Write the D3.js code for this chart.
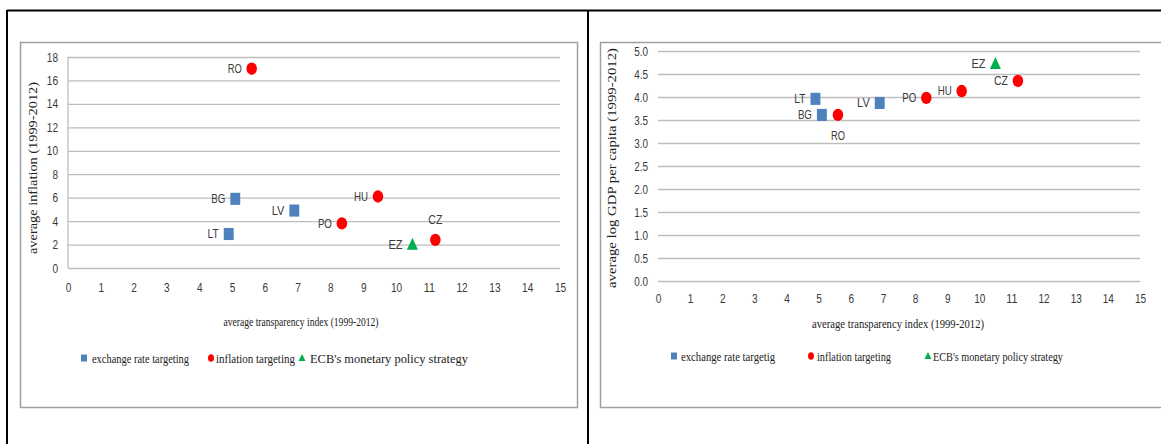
<!DOCTYPE html>
<html>
<head>
<meta charset="utf-8">
<script src="https://cdn.jsdelivr.net/npm/d3@7/dist/d3.min.js"></script>
<style>
  html, body { margin: 0; padding: 0; background: #fff; }
  svg { display: block; }
  .tick-label { font-family: "Liberation Sans Narrow", "Arial Narrow", "Liberation Sans", sans-serif; font-size: 12.5px; fill: #3a3a3a; }
  .data-label { font-family: "Liberation Sans Narrow", "Arial Narrow", "Liberation Sans", sans-serif; font-size: 12.5px; fill: #3a3a3a; }
  .serif { font-family: "Liberation Serif", "Times New Roman", serif; fill: #222; }
</style>
</head>
<body>
<svg id="chart" width="1161" height="444"></svg>
<script>
// ---------------- data ----------------
const countries    = ["LT", "BG", "RO", "LV", "PO", "HU", "CZ", "EZ"];
const regimes      = ["exchange", "exchange", "inflation", "exchange", "inflation", "inflation", "inflation", "ecb"];
const transparency = [4.9, 5.1, 5.6, 6.9, 8.35, 9.45, 11.2, 10.5];
const inflation    = [2.9, 5.9, 17.0, 4.9, 3.8, 6.1, 2.4, 2.0];
const logGdp       = [3.96, 3.61, 3.61, 3.87, 3.98, 4.13, 4.35, 4.72];

const xTicks         = d3.range(0, 16, 1);
const inflationTicks = d3.range(0, 19, 2);
const gdpTicks       = d3.range(0, 5.01, 0.5);

const legendLeft  = ["exchange rate targeting", "inflation targeting", "ECB's monetary policy strategy"];
const legendRight = ["exchange rate targetig", "inflation targeting", "ECB's monetary policy strategy"];

const xTitle        = "average transparency index (1999-2012)";
const yTitleLeft    = "average inflation (1999-2012)";
const yTitleRight   = "average log GDP per capita (1999-2012)";

// label placement per country (style, not data)
const labelPosLeft  = { LT: "left", BG: "left", RO: "left", LV: "left", PO: "left", HU: "left", CZ: "above", EZ: "left" };
const labelPosRight = { LT: "left", BG: "left", RO: "below", LV: "left", PO: "left", HU: "left", CZ: "left", EZ: "left" };

const colors = { exchange: "#4F81BD", inflation: "#FF0000", ecb: "#00B050" };

// ---------------- drawing ----------------
const svg = d3.select("#chart");

// condensed text width estimate (reference uses a narrow sans face)
function narrowWidth(s) {
  let w = 0;
  for (const ch of s) {
    if (ch === ".") w += 2.6;
    else if (/[0-9]/.test(ch)) w += 5.6;
    else if (ch === "L" || ch === "T") w += 5.6;
    else w += 7;
  }
  return w;
}

// outer table frame
svg.append("line").attr("x1", 7).attr("x2", 1161).attr("y1", 10.5).attr("y2", 10.5).attr("stroke", "#000").attr("stroke-width", 2);
svg.append("line").attr("x1", 7).attr("x2", 7).attr("y1", 10).attr("y2", 444).attr("stroke", "#000").attr("stroke-width", 2);
svg.append("line").attr("x1", 588).attr("x2", 588).attr("y1", 10).attr("y2", 444).attr("stroke", "#000").attr("stroke-width", 2);

function marker(g, type, x, y, s) {
  if (type === "exchange") {
    g.append("rect").attr("x", x - s * 0.45).attr("y", y - s * 0.55).attr("width", s * 0.9).attr("height", s * 1.1).attr("fill", colors.exchange);
  } else if (type === "inflation") {
    g.append("ellipse").attr("cx", x).attr("cy", y).attr("rx", s * 0.48).attr("ry", s * 0.56).attr("fill", colors.inflation);
  } else {
    const h = s * 1.05, w = s * 1.0;
    g.append("path").attr("d", `M${x},${y - h * 0.6} L${x + w / 2},${y + h * 0.45} L${x - w / 2},${y + h * 0.45} Z`).attr("fill", colors.ecb);
  }
}

function drawChart(cfg) {
  const g = svg.append("g");
  // chart box
  g.append("rect").attr("x", cfg.box[0] + 0.5).attr("y", cfg.box[1] + 0.5)
    .attr("width", cfg.box[2]).attr("height", cfg.box[3])
    .attr("fill", "#fff").attr("stroke", "#A0A0A0").attr("stroke-width", 1.5);

  const x = d3.scaleLinear().domain([0, 15]).range([cfg.plot.x0, cfg.plot.x1]);
  const y = d3.scaleLinear().domain(cfg.yDomain).range([cfg.plot.y0, cfg.plot.y1]);

  // gridlines via axis
  const grid = d3.axisLeft(y).tickValues(cfg.yTicks).tickSize(-(cfg.plot.x1 - cfg.plot.x0)).tickFormat("");
  const gg = g.append("g").attr("transform", `translate(${cfg.plot.x0},0)`).call(grid);
  gg.select(".domain").remove();
  gg.selectAll("line").attr("stroke", "#BEBEBE").attr("stroke-width", 1.3);

  if (cfg.yAxisLine) {
    g.append("line").attr("x1", cfg.plot.x0).attr("x2", cfg.plot.x0).attr("y1", cfg.plot.y1).attr("y2", cfg.plot.y0)
      .attr("stroke", "#BEBEBE").attr("stroke-width", 1.3);
  }

  // y tick labels
  const ya = d3.axisLeft(y).tickValues(cfg.yTicks).tickSize(0).tickPadding(0).tickFormat(cfg.yFormat);
  const yg = g.append("g").attr("transform", `translate(${cfg.plot.x0 - 10},0)`).call(ya);
  yg.select(".domain").remove();
  yg.selectAll("text").attr("class", "tick-label").attr("font-size", null).attr("font-family", null).attr("fill", null)
    .attr("textLength", function () { return narrowWidth(this.textContent); }).attr("lengthAdjust", "spacingAndGlyphs");

  // x tick labels
  const xa = d3.axisBottom(x).tickValues(xTicks).tickSize(0).tickPadding(0).tickFormat(d3.format("d"));
  const xg = g.append("g").attr("transform", `translate(0,${cfg.xLabelY})`).call(xa);
  xg.select(".domain").remove();
  xg.selectAll("text").attr("class", "tick-label").attr("font-size", null).attr("font-family", null).attr("fill", null)
    .attr("dy", "0.35em").attr("y", 0)
    .attr("textLength", function () { return narrowWidth(this.textContent); }).attr("lengthAdjust", "spacingAndGlyphs");

  // axis titles
  g.append("text").attr("class", "serif").attr("x", cfg.xTitle[0]).attr("y", cfg.xTitle[1])
    .attr("text-anchor", "middle").attr("font-size", 13.5)
    .attr("textLength", cfg.xTitle[2]).attr("lengthAdjust", "spacingAndGlyphs").text(xTitle);
  g.append("text").attr("class", "serif")
    .attr("transform", `translate(${cfg.yTitle[0]},${cfg.yTitle[1]}) rotate(-90)`)
    .attr("text-anchor", "middle").attr("font-size", 13)
    .attr("textLength", cfg.yTitle[2]).attr("lengthAdjust", "spacingAndGlyphs").text(cfg.yTitleText);

  // points
  const pts = g.append("g");
  countries.forEach((c, i) => {
    const px = x(transparency[i]), py = y(cfg.values[i]);
    marker(pts, regimes[i], px, py, 11);
    const pos = cfg.labelPos[c];
    const t = pts.append("text").attr("class", "data-label").text(c)
      .attr("textLength", narrowWidth(c)).attr("lengthAdjust", "spacingAndGlyphs");
    if (pos === "left") t.attr("x", px - 10).attr("y", py).attr("dy", "0.35em").attr("text-anchor", "end");
    else if (pos === "above") t.attr("x", px).attr("y", py - 20).attr("dy", "0.35em").attr("text-anchor", "middle");
    else t.attr("x", px).attr("y", py + 21).attr("dy", "0.35em").attr("text-anchor", "middle");
  });

  // legend
  const types = ["exchange", "inflation", "ecb"];
  types.forEach((tp, i) => {
    const L = cfg.legend[i];
    const lg = g.append("g");
    if (tp === "exchange") lg.append("rect").attr("x", L.mx - 3).attr("y", cfg.legendY - 3.5).attr("width", 6).attr("height", 7).attr("fill", colors.exchange);
    else if (tp === "inflation") lg.append("ellipse").attr("cx", L.mx).attr("cy", cfg.legendY).attr("rx", 3).attr("ry", 3.8).attr("fill", colors.inflation);
    else lg.append("path").attr("d", `M${L.mx},${cfg.legendY - 4} L${L.mx + 3.5},${cfg.legendY + 3} L${L.mx - 3.5},${cfg.legendY + 3} Z`).attr("fill", colors.ecb);
    lg.append("text").attr("class", "serif").attr("x", L.tx).attr("y", cfg.legendY).attr("dy", "0.35em")
      .attr("font-size", 13).attr("textLength", L.w).attr("lengthAdjust", "spacingAndGlyphs").text(cfg.legendText[i]);
  });
}

drawChart({
  box: [20, 42, 557, 365],
  plot: { x0: 68, x1: 560, y0: 268, y1: 57 },
  yDomain: [0, 18],
  yTicks: inflationTicks,
  yFormat: d3.format("d"),
  yAxisLine: true,
  xLabelY: 288,
  xTitle: [301, 326, 155],
  yTitle: [37, 168, 172],
  yTitleText: yTitleLeft,
  values: inflation,
  labelPos: labelPosLeft,
  legendY: 358,
  legend: [{ mx: 84, tx: 92, w: 97 }, { mx: 211, tx: 216, w: 79 }, { mx: 302, tx: 310, w: 158 }],
  legendText: legendLeft
});

drawChart({
  box: [600, 42, 580, 365],
  plot: { x0: 658, x1: 1140, y0: 281, y1: 51 },
  yDomain: [0, 5],
  yTicks: gdpTicks,
  yFormat: d3.format(".1f"),
  yAxisLine: false,
  xLabelY: 299,
  xTitle: [898, 328, 172],
  yTitle: [616, 168, 240],
  yTitleText: yTitleRight,
  values: logGdp,
  labelPos: labelPosRight,
  legendY: 356,
  legend: [{ mx: 674, tx: 681, w: 94 }, { mx: 811, tx: 817, w: 74 }, { mx: 928, tx: 933, w: 130 }],
  legendText: legendRight
});
</script>
</body>
</html>
